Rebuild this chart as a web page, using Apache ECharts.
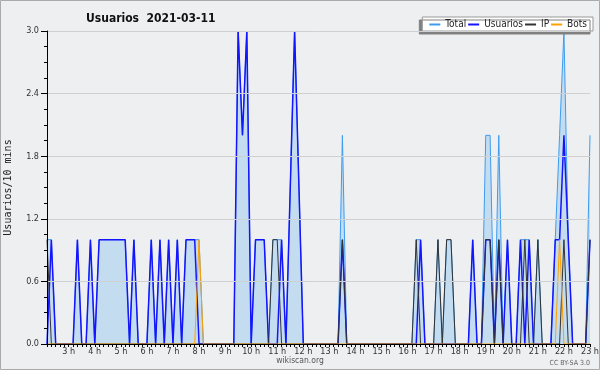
<!DOCTYPE html>
<html>
<head>
<meta charset="utf-8">
<script src="https://cdn.jsdelivr.net/npm/echarts@6/dist/echarts.min.js"></script>
<style>
html,body{margin:0;padding:0;background:#eeeff1;}
#c{width:600px;height:370px;}
</style>
</head>
<body>
<div id="c"></div>
<script>
// 10-minute slots from 2:10 to 23:00
const categories = [];
for (let h = 2; h <= 23; h++) {
  for (let m = 0; m < 60; m += 10) {
    if ((h === 2 && m === 0) || (h === 23 && m > 0)) continue;
    categories.push(h + ':' + (m < 10 ? '0' + m : m));
  }
}

const total = [
  1,1,0,0,0,0,0,1,0,0,
  1,0,1,1,1,1,1,1,1,0,
  1,0,0,0,1,0,1,0,1,0,
  1,0,1,1,1,1,0,0,0,0,
  0,0,0,0,3,2,3,0,1,1,
  1,0,1,1,1,0,1.5,3,1.5,0,
  0,0,0,0,0,0,0,0,2,0,
  0,0,0,0,0,0,0,0,0,0,
  0,0,0,0,0,1,1,0,0,0,
  1,0,1,1,0,0,0,0,1,0,
  0,2,2,0,2,0,1,0,0,1,
  1,1,0,1,0,0,0,1,2,3,
  1,0,0,0,0,2
];
const usuarios = [
  0,1,0,0,0,0,0,1,0,0,
  1,0,1,1,1,1,1,1,1,0,
  1,0,0,0,1,0,1,0,1,0,
  1,0,1,1,1,0,0,0,0,0,
  0,0,0,0,3,2,3,0,1,1,
  1,0,0,0,1,0,1.5,3,1.5,0,
  0,0,0,0,0,0,0,0,1,0,
  0,0,0,0,0,0,0,0,0,0,
  0,0,0,0,0,0,1,0,0,0,
  0,0,0,0,0,0,0,0,1,0,
  0,1,1,0,1,0,1,0,0,1,
  0,1,0,0,0,0,0,1,1,2,
  1,0,0,0,0,1
];
const ip = [
  1,0,0,0,0,0,0,0,0,0,
  0,0,0,0,0,0,0,0,0,0,
  0,0,0,0,0,0,0,0,0,0,
  0,0,0,0,0,0,0,0,0,0,
  0,0,0,0,0,0,0,0,0,0,
  0,0,1,1,0,0,0,0,0,0,
  0,0,0,0,0,0,0,0,1,0,
  0,0,0,0,0,0,0,0,0,0,
  0,0,0,0,0,1,0,0,0,0,
  1,0,1,1,0,0,0,0,0,0,
  0,1,1,0,1,0,0,0,0,0,
  1,0,0,1,0,0,0,0,0,1,
  0,0,0,0,0,1
];
const bots = [
  0,0,0,0,0,0,0,0,0,0,
  0,0,0,0,0,0,0,0,0,0,
  0,0,0,0,0,0,0,0,0,0,
  0,0,0,0,0,1,0,0,0,0,
  0,0,0,0,0,0,0,0,0,0,
  0,0,0,0,0,0,0,0,0,0,
  0,0,0,0,0,0,0,0,0,0,
  0,0,0,0,0,0,0,0,0,0,
  0,0,0,0,0,0,0,0,0,0,
  0,0,0,0,0,0,0,0,0,0,
  0,0,0,0,0,0,0,0,0,0,
  0,0,0,0,0,0,0,0,1,0,
  0,0,0,0,0,0
];
const seriesNames = ['Total', 'Usuarios', 'IP', 'Bots'];
const titleText = 'Usuarios  2021-03-11';
const yAxisName = 'Usuarios/10 mins';

const F = '"DejaVu Sans Condensed", "DejaVu Sans", sans-serif';
const chart = echarts.init(document.getElementById('c'), null, {renderer: 'canvas'});
chart.setOption({
  animation: false,
  backgroundColor: '#eeeff1',
  title: {
    text: titleText, left: 81, top: 8,
    textStyle: {fontFamily: F, fontSize: 12, fontWeight: 'bold', color: '#111'}
  },
  legend: {
    data: seriesNames, right: 7, top: 17,
    backgroundColor: '#fff', borderColor: '#999', borderWidth: 1,
    padding: [2, 6, 1, 7], itemGap: 2, itemWidth: 11, itemHeight: 2, icon: 'rect',
    shadowColor: '#808080', shadowOffsetX: -3, shadowOffsetY: 3, shadowBlur: 0,
    textStyle: {fontFamily: F, fontSize: 10, color: '#222', lineHeight: 11}
  },
  grid: {left: 47, right: 10, top: 31, bottom: 26, containLabel: false, outerBoundsMode: 'none'},
  xAxis: {
    type: 'category', data: categories, boundaryGap: false, z: 10,
    axisLine: {lineStyle: {color: '#000', width: 1}},
    axisTick: {interval: 0, length: 3, lineStyle: {color: '#000'}},
    axisLabel: {
      interval: (i) => i % 6 === 5,
      formatter: (v) => v.split(':')[0] + ' h',
      fontFamily: F, fontSize: 9, color: '#333', margin: 3
    },
    splitLine: {show: false}
  },
  yAxis: {
    type: 'value', min: 0, max: 3, interval: 0.6, z: 10,
    name: yAxisName, nameLocation: 'middle', nameRotate: 90, nameGap: 34,
    nameTextStyle: {fontFamily: '"DejaVu Sans Mono", monospace', fontSize: 10, color: '#222'},
    axisLine: {show: true, lineStyle: {color: '#000', width: 1}},
    axisTick: {show: true, length: 6, lineStyle: {color: '#000'}},
    minorTick: {show: true, splitNumber: 4, length: 3, lineStyle: {color: '#000'}},
    axisLabel: {formatter: (v) => v.toFixed(1), fontFamily: F, fontSize: 9, color: '#333', margin: 8},
    splitLine: {show: true, lineStyle: {color: '#cfd0d2', width: 1}}
  },
  graphic: [
    {type: 'rect', silent: true, shape: {x: 0.5, y: 0.5, width: 599, height: 369},
     style: {fill: 'none', stroke: '#aaaaaa', lineWidth: 1}},
    {type: 'text', silent: true, style: {text: 'wikiscan.org', x: 300, y: 361, textAlign: 'center', textVerticalAlign: 'middle', font: '8.5px ' + F, fill: '#555'}},
    {type: 'text', silent: true, style: {text: 'CC BY-SA 3.0', x: 590, y: 363, textAlign: 'right', textVerticalAlign: 'middle', font: '7px ' + F, fill: '#666'}}
  ],
  series: [
    {name: 'Total', type: 'line', data: total, symbol: 'none', z: 1,
     color: '#3d9cf0', lineStyle: {color: '#3d9cf0', width: 1},
     areaStyle: {color: '#c4dcf0', opacity: 1}},
    {name: 'Usuarios', type: 'line', data: usuarios, symbol: 'none', z: 2,
     color: '#1414ff', lineStyle: {color: '#1414ff', width: 1.5}},
    {name: 'IP', type: 'line', data: ip, symbol: 'none', z: 3,
     color: '#333333', lineStyle: {color: '#333333', width: 1}},
    {name: 'Bots', type: 'line', data: bots, symbol: 'none', z: 4,
     color: '#ffa000', lineStyle: {color: '#ffa000', width: 1}}
  ]
});
</script>
</body>
</html>
